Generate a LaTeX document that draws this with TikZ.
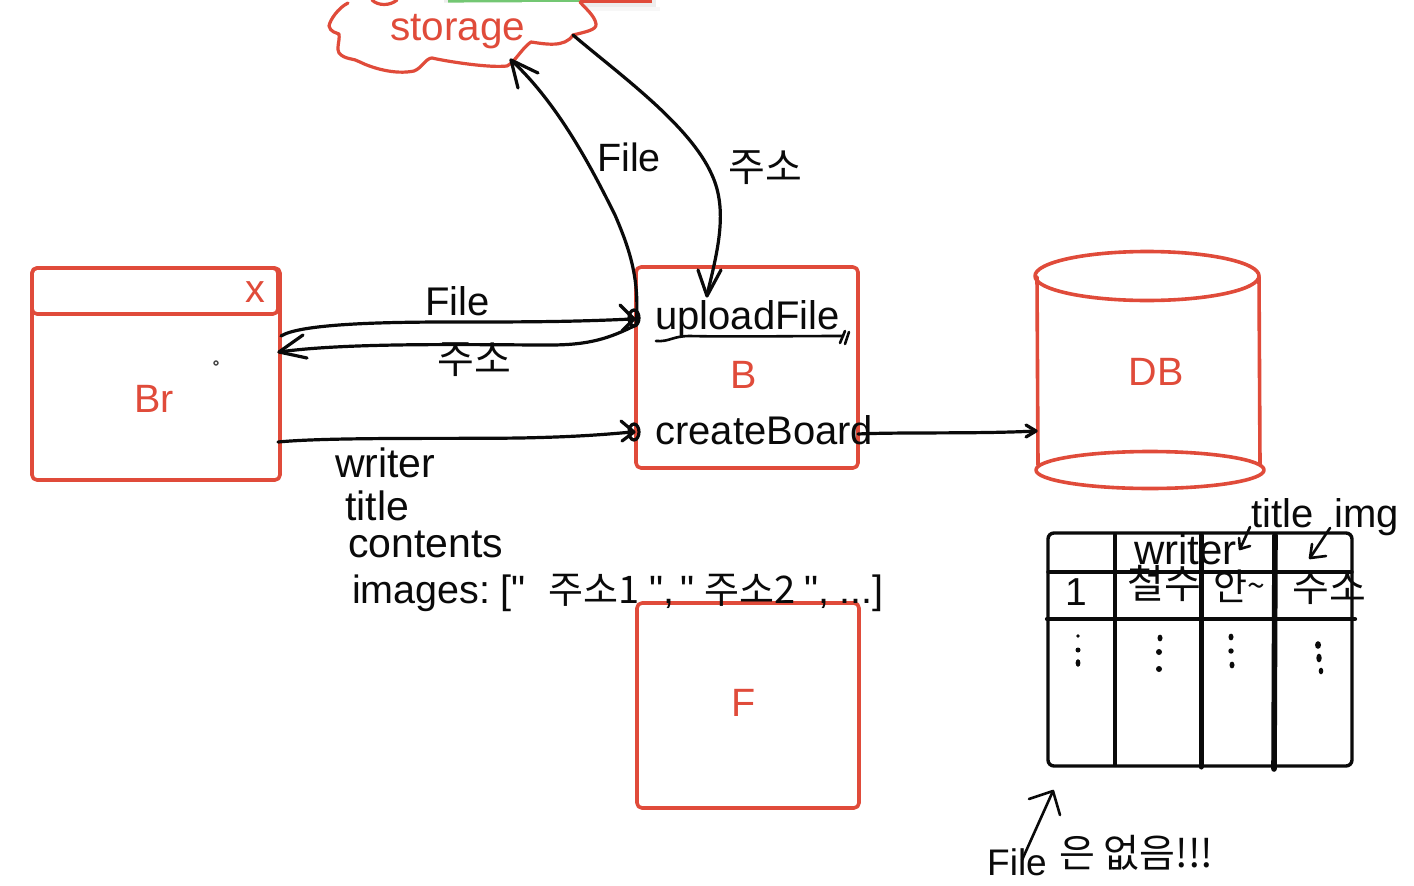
\documentclass[tikz,border=0pt]{standalone}
\usepackage{fontspec}
\setmainfont{Liberation Sans}
\newfontfamily\plainlatin{Liberation Sans}
\newfontfamily\krfont{Noto Sans CJK KR}
\usetikzlibrary{shapes.geometric}
\definecolor{redink}{HTML}{E04B3A}
\definecolor{penink}{HTML}{0A0A0A}
\tikzset{
  x=1pt,y=-1pt,
  redline/.style={draw=redink,line width=3.6pt,line cap=round,line join=round},
  redbox/.style={redline,rounded corners=5pt},
  pen/.style={draw=penink,line width=3.2pt,line cap=round,line join=round},
  thinpen/.style={draw=penink,line width=2.6pt,line cap=round,line join=round},
  tablepen/.style={draw=penink,line width=3.4pt,line cap=round,line join=round},
  heavypen/.style={draw=penink,line width=5pt,line cap=round,line join=round},
  label/.style={inner sep=0pt,anchor=base west,text=penink,font=\fontsize{41}{41}\selectfont},
  kr/.style={inner sep=0pt,anchor=base west,text=penink,font=\fontsize{40}{40}\krfont},
  redlabel/.style={inner sep=0pt,text=redink,font=\fontsize{39.5}{39.5}\selectfont},
}
\begin{document}
\begin{tikzpicture}
\useasboundingbox (0,0) rectangle (1414,886);
\fill[white] (0,0) rectangle (1414,886);

% status strip at the top edge
\fill[black!7] (444,0) rectangle (656,7);
\fill[black!3] (440,7) rectangle (660,11);
\fill[green!60!black!55!white] (448,0) rectangle (580,2.5);
\fill[redink] (580,0) rectangle (652,2.5);

% storage cloud
\draw[redline,line width=3.2pt,fill=white]
  (348,3) .. controls (338,8) and (330,20) .. (329,26)
  .. controls (330,32) and (337,33) .. (339,34)
  .. controls (340,42) and (336,48) .. (339,53)
  .. controls (345,60) and (354,58) .. (360,62)
  .. controls (372,68) and (395,75) .. (414,71)
  .. controls (422,68) and (426,58) .. (432,58)
  .. controls (450,62) and (490,68) .. (507,66)
  .. controls (515,62) and (522,48) .. (531,42)
  .. controls (545,44) and (565,48) .. (573,35)
  .. controls (585,32) and (597,30) .. (596,24)
  .. controls (595,16) and (585,8) .. (580,2);
\draw[redline,line width=3.2pt] (372,0) .. controls (378,6) and (390,6) .. (397,0);
\node[redlabel,anchor=base west,font=\fontsize{40.5}{40.5}\selectfont] (storage) at (390,40) {storage};
\coordinate (cloudIn) at (511,60);
\coordinate (cloudOut) at (573,35);

% browser window
\node[redbox,minimum width=248pt,minimum height=212pt,inner sep=0pt] (br) at (156,374) {};
\node[redbox,minimum width=246pt,minimum height=46pt,inner sep=0pt] (titlebar) at (155,291) {};
\node[redlabel] (brx) at (255,292) {x};
\node[redlabel] (brlabel) at (154,399) {Br};
\draw[draw=black!70,line width=1.4pt] (216,363) circle (2pt);
\coordinate (brFileOut) at (281,336);
\coordinate (brAddrIn) at (279,352);
\coordinate (brWrite) at (278,442);

% backend box
\node[redbox,minimum width=222pt,minimum height=201pt,inner sep=0pt] (b) at (747,367.5) {};
\node[redlabel] (blabel) at (744,375) {B};
\node[label,font=\fontsize{40}{40}\selectfont] (upload) at (655,329) {uploadFile};
\node[label,font=\fontsize{40}{40}\selectfont] (create) at (655,444) {createBoard};
\draw[thinpen,line width=3.2pt] (634,318) circle (5pt and 8pt);
\draw[thinpen,line width=3.2pt] (634,432) circle (5pt and 8pt);
\coordinate (uploadPort) at (632,319);
\coordinate (uploadOut) at (636,325);
\coordinate (createPort) at (632,432);
\coordinate (createOut) at (858,434);

% frontend box
\node[redbox,minimum width=222pt,minimum height=205pt,inner sep=0pt] (f) at (748,705.5) {};
\node[redlabel] (flabel) at (744,703) {F};

% database cylinder
\draw[redline] (1037,277) -- (1038,465);
\draw[redline] (1259,277) -- (1260,465);
\node[redline,ellipse,minimum width=224pt,minimum height=49pt,inner sep=0pt] (dbtop) at (1147,276) {};
\node[redline,ellipse,minimum width=228pt,minimum height=37pt,inner sep=0pt] (dbbot) at (1150,470) {};
\node[redlabel] (dblabel) at (1156,372) {DB};
\coordinate (dbIn) at (1036,431);

% upload and address flows
\draw[pen] (brFileOut) .. controls (300,324) and (380,322) .. (450,322)
  .. controls (520,322) and (570,322) .. (uploadPort);
\draw[pen] (620,305) -- (634,319) -- (622,331);
\draw[pen] (uploadOut) .. controls (610,338) and (590,345) .. (550,345)
  .. controls (480,345) and (350,342) .. (brAddrIn);
\draw[pen] (303,335) -- (brAddrIn) -- (307,358);
\node[label,font=\fontsize{40}{40}\selectfont] (fileA) at (425,315) {File};
\node[kr] (addrA) at (437,373) {주소};

% create request, then on to the database
\draw[pen] (brWrite) .. controls (330,437) and (450,439) .. (520,438)
  .. controls (570,437) and (600,435) .. (createPort);
\draw[pen] (621,421) -- (634,432) -- (622,441);
\draw[pen] (createOut) .. controls (900,432) and (980,434) .. (dbIn);
\draw[pen] (1026,425) -- (dbIn) -- (1026,437);
\node[label] (writerA) at (335,477) {writer};
\node[label] (titleA) at (345,520) {title};
\node[label] (contents) at (348,557) {contents};
\node[label,font=\fontsize{39.5}{39.5}\plainlatin] (images) at (352,603) {images:\hspace{10pt}["\hspace{23pt}{\fontsize{38}{38}\krfont 주소1}\hspace{10pt}",\hspace{6pt}"\hspace{10pt}{\fontsize{38}{38}\krfont 주소2}\hspace{9pt}",\hspace{10pt}...]};

% storage traffic
\draw[pen] (uploadOut) .. controls (640,280) and (630,250) .. (615,215)
  .. controls (595,175) and (560,105) .. (cloudIn);
\draw[pen] (538,73) -- (cloudIn) -- (518,88);
\draw[pen] (cloudOut) .. controls (620,75) and (690,125) .. (712,175)
  .. controls (728,210) and (718,250) .. (707,295);
\draw[pen] (698,270) -- (707,296) -- (721,270);
\node[label,font=\fontsize{39.5}{39.5}\selectfont] (fileB) at (597,171) {File};
\node[kr] (addrB) at (728,181) {주소};

% underline beneath uploadFile
\draw[thinpen] (656,341) .. controls (670,342) and (672,336) .. (690,336)
  .. controls (730,337) and (790,336) .. (843,336);
\draw[thinpen] (840,343) -- (845,331);
\draw[thinpen] (845,344) -- (849,332);

% board table
\draw[tablepen,rounded corners=6pt] (1048,533) rectangle (1352,766);
\draw[tablepen] (1048,572) -- (1352,572);
\draw[heavypen,line width=4.2pt] (1047,619) -- (1355,619);
\draw[tablepen,line width=4pt] (1115,535) -- (1115,765);
\draw[heavypen] (1201,535) -- (1201,767);
\draw[heavypen,line width=5.6pt] (1275,535) -- (1274,769);
\fill[penink] (1078,636) circle (1.8pt) (1078,650) circle (2.5pt) (1078,663) ellipse (2.4pt and 3.8pt);
\fill[penink] (1160,638) ellipse (2.5pt and 3.4pt) (1159,652) circle (3pt) (1159,669) circle (3pt);
\fill[penink] (1231,637) ellipse (2.5pt and 3.4pt) (1231,651) circle (2.7pt) (1232,665) ellipse (2.5pt and 3.4pt);
\fill[penink] (1318,645) ellipse (3pt and 3.8pt) (1319,658) ellipse (2.7pt and 4.4pt) (1321,671) ellipse (2.3pt and 3.3pt);
\node[label,font=\fontsize{42}{42}\selectfont] (writerB) at (1134,564) {writer};
\node[label,font=\fontsize{40}{40}\selectfont] (titleB) at (1251,527) {title};
\node[label,font=\fontsize{40}{40}\selectfont] (imgB) at (1334,527) {img};
\node[label,font=\fontsize{39}{39}\selectfont] (one) at (1065,605) {1};
\node[kr] (cheolsu) at (1127,598) {철수};
\node[kr,font=\fontsize{37}{37}\krfont] (an) at (1213,600) {안\raisebox{3pt}{\fontsize{32}{32}\selectfont\textasciitilde}};
\node[kr] (addrC) at (1292,601) {주소};
\coordinate (titleTail) at (1250,527);
\coordinate (titleHead) at (1240,549);
\coordinate (imgTail) at (1330,528);
\coordinate (imgHead) at (1310,558);
\draw[thinpen] (titleTail) -- (titleHead);
\draw[thinpen] (1239,538) -- (titleHead) -- (1250,546);
\draw[thinpen] (imgTail) -- (imgHead);
\draw[thinpen] (1312,544) -- (imgHead) -- (1326,556);

% note under the table
\node[label,font=\fontsize{37}{37}\selectfont] (fileC) at (987,875) {File};
\node[kr,font=\fontsize{39}{39}\krfont] (none) at (1059,867) {은 없음!!!};
\coordinate (noteTail) at (1022,860);
\coordinate (noteHead) at (1053,791);
\draw[thinpen] (noteTail) -- (noteHead);
\draw[thinpen] (1029,799) -- (noteHead) -- (1060,815);
\end{tikzpicture}
\end{document}
